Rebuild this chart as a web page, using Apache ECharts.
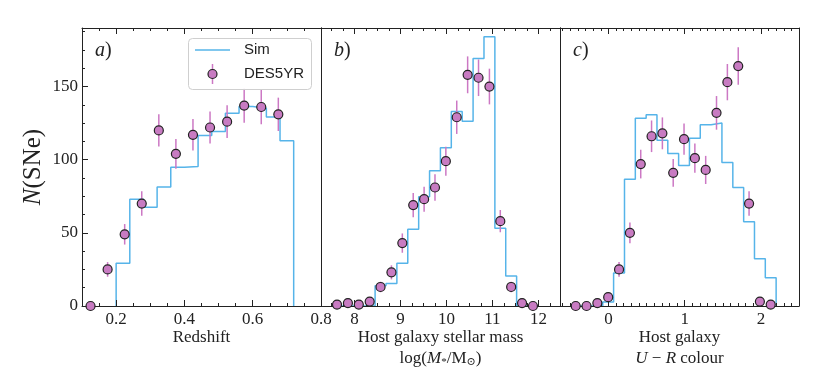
<!DOCTYPE html>
<html><head><meta charset="utf-8">
<script src="https://cdn.jsdelivr.net/npm/echarts@6/dist/echarts.min.js"></script>
<style>html,body{margin:0;padding:0;background:#fff}#c{width:830px;height:374px}</style>
</head><body><div id="c"></div>
<script>
// ---------- data ----------
// Panel a: redshift
const zDataEdges  = [0.10,0.15,0.20,0.25,0.30,0.35,0.40,0.45,0.50,0.55,0.60,0.65,0.70];
const zDataCounts = [0,25,49,70,120,104,117,122,126,137,136,131];
const zDataErr    = [0,5.0,7.0,8.4,11.0,10.2,10.8,11.0,11.2,11.7,11.7,11.4];
const zSimEdges   = [0.20,0.24,0.28,0.32,0.36,0.40,0.44,0.48,0.52,0.56,0.60,0.64,0.68,0.72];
const zSimCounts  = [29.2,73.0,67.5,81.4,94.9,95.3,116.5,119.2,131.8,136.3,135.2,129.1,112.9];
// Panel b: host stellar mass
const massEdges  = [7.500,7.737,7.974,8.211,8.447,8.684,8.921,9.158,9.395,9.632,9.868,10.105,10.342,10.579,10.816,11.053,11.289,11.526,11.763,12.000];
const massCounts = [1,2,1,3,13,23,43,69,73,81,99,129,158,156,150,58,13,2,0];
const massErr    = [1,1.4,1,1.7,3.6,4.8,6.6,8.3,8.5,9.0,9.9,11.4,12.6,12.5,12.2,7.6,3.6,1.4,0];
const massSim    = [0,0,0,0,13.9,15.4,29.2,52.4,74.7,92.5,108.2,132.9,126.3,169.2,184.1,53.2,20.5,0,0];
// Panel c: U-R colour
const colEdges  = [-0.500,-0.358,-0.216,-0.074,0.068,0.211,0.353,0.495,0.637,0.779,0.921,1.063,1.205,1.347,1.489,1.632,1.774,1.916,2.058,2.200];
const colCounts = [0,0,2,6,25,50,97,116,118,91,114,101,93,132,153,164,70,3,1];
const colErr    = [0,0,1.4,2.4,5.0,7.1,9.8,10.8,10.9,9.5,10.7,10.0,9.6,11.5,12.4,12.8,8.4,1.7,1];
const colSim    = [0,0,0,2.8,22.5,86.6,128.4,130.7,113.2,104.2,96.0,114.7,123.8,125.0,98.0,81.0,57.6,32.3,19.3];
// tick labels
const zTicks = [0.2,0.4,0.6,0.8];
const massTicks = [8,9,10,11,12];
const colTicks = [0,1,2];
const yTicks = [0,50,100,150];

// ---------- styling ----------
const SIM = '#56B4E9', PT = '#c87bc2', ERR = '#cc78c4', AX = '#222';
const SERIF = '"Liberation Serif","DejaVu Serif",serif';
const panels = [
  {left:82, min:0.1, max:0.8, majors:zTicks, minorStep:0.05, fmt:v=>v.toFixed(1),
   dEdges:zDataEdges, counts:zDataCounts, err:zDataErr, sEdges:zSimEdges, sim:zSimCounts},
  {left:321, min:7.27, max:12.47, majors:massTicks, minorStep:0.25, fmt:v=>String(v),
   dEdges:massEdges, counts:massCounts, err:massErr, sEdges:massEdges, sim:massSim},
  {left:560, min:-0.635, max:2.5, majors:colTicks, minorStep:0.1, fmt:v=>String(v),
   dEdges:colEdges, counts:colCounts, err:colErr, sEdges:colEdges, sim:colSim}
];
const W = 239, TOP = 28, H = 278, YMAX = 190;

function minorsOf(min, max, step, majors) {
  const out = [];
  const k0 = Math.ceil(min / step - 1e-9), k1 = Math.floor(max / step + 1e-9);
  for (let k = k0; k <= k1; k++) {
    const v = +(k * step).toFixed(6);
    if (!majors.some(m => Math.abs(m - v) < 1e-6)) out.push(v);
  }
  return out;
}
function stepPts(edges, vals) {
  const pts = [[edges[0], 0]];
  for (let i = 0; i < vals.length; i++) { pts.push([edges[i], vals[i]]); pts.push([edges[i+1], vals[i]]); }
  pts.push([edges[edges.length-1], 0]);
  return pts;
}

const grid = [], xAxis = [], yAxis = [], series = [];
const lineAx = {show:true, onZero:false, lineStyle:{color:AX, width:1}};
panels.forEach((p, g) => {
  grid.push({left:p.left, top:TOP, width:W, height:H});
  const minors = minorsOf(p.min, p.max, p.minorStep, p.majors);
  const xi = xAxis.length;
  const base = {gridIndex:g, type:'value', min:p.min, max:p.max, splitLine:{show:false}, z:3};
  xAxis.push(Object.assign({}, base, {position:'bottom', axisLine:lineAx,
    axisTick:{show:true, inside:true, length:6, customValues:p.majors, lineStyle:{color:AX}},
    axisLabel:{show:true, customValues:p.majors, formatter:p.fmt, margin:5, color:'#222', fontFamily:SERIF, fontSize:17}}));
  xAxis.push(Object.assign({}, base, {position:'bottom', axisLine:{show:false, onZero:false},
    axisTick:{show:true, inside:true, length:3, customValues:minors, lineStyle:{color:AX}}, axisLabel:{show:false}}));
  xAxis.push(Object.assign({}, base, {position:'top', axisLine:lineAx,
    axisTick:{show:true, inside:true, length:6, customValues:p.majors, lineStyle:{color:AX}}, axisLabel:{show:false}}));
  xAxis.push(Object.assign({}, base, {position:'top', axisLine:{show:false, onZero:false},
    axisTick:{show:true, inside:true, length:3, customValues:minors, lineStyle:{color:AX}}, axisLabel:{show:false}}));
  const yi = yAxis.length;
  const yb = {gridIndex:g, type:'value', min:0, max:YMAX, splitLine:{show:false}, z:3};
  if (g === 0) {
    yAxis.push(Object.assign({}, yb, {position:'left', axisLine:lineAx,
      axisTick:{show:true, inside:true, length:6, customValues:yTicks, lineStyle:{color:AX}},
      axisLabel:{show:true, customValues:yTicks, margin:4, color:'#222', fontFamily:SERIF, fontSize:17}}));
    yAxis.push(Object.assign({}, yb, {position:'left', axisLine:{show:false, onZero:false},
      axisTick:{show:true, inside:true, length:3, customValues:minorsOf(0, YMAX, 12.5, yTicks), lineStyle:{color:AX}},
      axisLabel:{show:false}}));
  } else {
    yAxis.push(Object.assign({}, yb, {position:'left', axisLine:lineAx, axisTick:{show:false}, axisLabel:{show:false}}));
  }
  yAxis.push(Object.assign({}, yb, {position:'right', axisLine:lineAx, axisTick:{show:false}, axisLabel:{show:false}}));

  series.push({type:'line', xAxisIndex:xi, yAxisIndex:yi, data:stepPts(p.sEdges, p.sim), symbol:'none',
    lineStyle:{color:SIM, width:1.5}, z:2, animation:false});
  const pts = p.counts.map((c, i) => [(p.dEdges[i] + p.dEdges[i+1]) / 2, c, p.err[i]]);
  series.push({type:'custom', xAxisIndex:xi, yAxisIndex:yi, data:pts, z:4, animation:false,
    encode:{x:0, y:1},
    renderItem:(params, api) => {
      const x = api.value(0), y = api.value(1), e = api.value(2);
      const a = api.coord([x, y - e]), b = api.coord([x, y + e]);
      return {type:'line', shape:{x1:a[0], y1:a[1], x2:b[0], y2:b[1]}, style:{stroke:ERR, lineWidth:1.5}};
    }});
  series.push({type:'scatter', xAxisIndex:xi, yAxisIndex:yi, data:pts.map(d => [d[0], d[1]]), symbol:'circle',
    symbolSize:9, clip:false, z:5, animation:false,
    itemStyle:{color:PT, borderColor:'#222', borderWidth:1.2, opacity:1}});
});

function txt(x, y, text, size, opts) {
  return Object.assign({type:'text', x:x, y:y, z:10, style:{text:text, fill:'#222',
    font:size + 'px ' + SERIF, textAlign:'center', textVerticalAlign:'middle', align:'center', verticalAlign:'middle',
    rich:{i:{fontStyle:'italic', fontFamily:SERIF, fontSize:size},
          n:{fontFamily:SERIF, fontSize:size},
          s:{fontFamily:SERIF, fontSize:Math.round(size*0.65), verticalAlign:'bottom', padding:[0,0,0,0]}}}}, opts || {});
}
const graphic = [
  txt(201.5, 338, 'Redshift', 17),
  txt(440.5, 338, 'Host galaxy stellar mass', 17),
  txt(440.5, 359, '{n|log(}{i|M}{s|*}{n|/M}{s|\u2299}{n|)}', 17),
  txt(679.5, 338, 'Host galaxy', 17),
  txt(679.5, 359, '{i|U}{n| \u2212 }{i|R}{n| colour}', 17),
  Object.assign(txt(0, 0, '{i|N}{n|(SNe)}', 25), {x:33, y:167, rotation:Math.PI/2}),
  (function(){ const t = txt(95, 51, '{i|a}{n|)}', 20); t.style.textAlign='left'; t.style.align='left'; return t; })(),
  (function(){ const t = txt(334, 51, '{i|b}{n|)}', 20); t.style.textAlign='left'; t.style.align='left'; return t; })(),
  (function(){ const t = txt(573, 51, '{i|c}{n|)}', 20); t.style.textAlign='left'; t.style.align='left'; return t; })(),
  // legend
  {type:'rect', z:8, shape:{x:188.5, y:38.5, width:123, height:51, r:4},
   style:{fill:'rgba(255,255,255,0.85)', stroke:'#cfcfcf', lineWidth:1}},
  {type:'line', z:9, shape:{x1:195, y1:50, x2:230, y2:50}, style:{stroke:SIM, lineWidth:1.5}},
  {type:'line', z:9, shape:{x1:212.5, y1:64, x2:212.5, y2:84}, style:{stroke:ERR, lineWidth:1.5}},
  {type:'circle', z:10, shape:{cx:212.5, cy:74, r:4.5}, style:{fill:PT, stroke:'#222', lineWidth:1.2}},
  {type:'text', z:10, x:244, y:50, style:{text:'Sim', fill:'#222', font:'15px "Liberation Sans","DejaVu Sans",sans-serif', textVerticalAlign:'middle', verticalAlign:'middle'}},
  {type:'text', z:10, x:244, y:74, style:{text:'DES5YR', fill:'#222', font:'15px "Liberation Sans","DejaVu Sans",sans-serif', textVerticalAlign:'middle', verticalAlign:'middle'}}
];

const chart = echarts.init(document.getElementById('c'), null, {renderer:'canvas'});
chart.setOption({animation:false, backgroundColor:'#fff', grid, xAxis, yAxis, series, graphic});
</script></body></html>
